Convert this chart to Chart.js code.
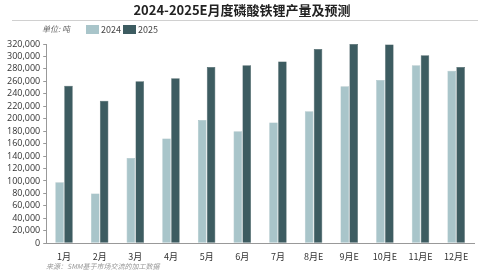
<!DOCTYPE html>
<html>
<head>
<meta charset="utf-8">
<script src="https://cdn.jsdelivr.net/npm/chart.js@4.4.1/dist/chart.umd.min.js"></script>
<style>
  html, body { margin: 0; padding: 0; background: #fff; }
  #wrap { width: 484px; height: 274px; position: relative; }
</style>
</head>
<body>
<div id="wrap"><canvas id="myChart_lfp"></canvas></div>
<script>
// data
var months = ["1月", "2月", "3月", "4月", "5月", "6月", "7月", "8月E", "9月E", "10月E", "11月E", "12月E"];
var data_2024 = [98000, 80000, 137000, 168000, 198000, 180000, 194000, 212000, 252000, 262000, 286000, 277000];
var data_2025 = [253000, 229000, 260000, 265000, 283000, 286000, 292000, 312000, 320000, 319000, 302000, 283000];
var y_ticks = [0, 20000, 40000, 60000, 80000, 100000, 120000, 140000, 160000, 180000, 200000, 220000, 240000, 260000, 280000, 300000, 320000];

var col_2024 = '#a9c5ca';
var col_2025 = '#3d5c61';
var cjk = "'Noto Sans CJK SC', sans-serif";

// title, unit, legend and source note
var decor = {
  id: 'decor',
  afterDraw: function (chart) {
    var c = chart.ctx;
    c.save();
    c.fillStyle = '#222';
    c.font = "bold 13px " + cjk;
    c.textAlign = 'center';
    c.textBaseline = 'middle';
    c.fillText('2024-2025E月度磷酸铁锂产量及预测', 242, 10);

    c.strokeStyle = '#d0d0d0';
    c.lineWidth = 1;
    c.beginPath();
    c.moveTo(12, 20.5);
    c.lineTo(478, 20.5);
    c.stroke();

    c.textAlign = 'left';
    c.font = "italic 8px " + cjk;
    c.fillStyle = '#666';
    c.fillText('单位: 吨', 42, 29);

    c.font = "9px " + cjk;
    c.fillStyle = col_2024;
    c.fillRect(86, 25, 13, 9);
    c.fillStyle = '#444';
    c.fillText('2024', 101, 29.5);
    c.fillStyle = col_2025;
    c.fillRect(123, 25, 13, 9);
    c.fillStyle = '#444';
    c.fillText('2025', 138, 29.5);

    c.font = "italic 7px " + cjk;
    c.fillStyle = '#999';
    c.fillText('来源：SMM基于市场交流的加工数据', 46, 266);
    c.restore();
  }
};

var ctx = document.getElementById("myChart_lfp").getContext('2d');
var myChart_lfp = new Chart(ctx, {
  type: 'bar',
  data: {
    labels: months,
    datasets: [{
      label: "2024",
      data: data_2024,
      backgroundColor: col_2024,
      borderColor: '#9ab6bb',
      borderWidth: 0.5,
      barPercentage: 0.96,
      categoryPercentage: 0.5
    }, {
      label: "2025",
      data: data_2025,
      backgroundColor: col_2025,
      borderColor: '#2f4a4e',
      borderWidth: 0.5,
      barPercentage: 0.96,
      categoryPercentage: 0.5
    }]
  },
  options: {
    responsive: true,
    maintainAspectRatio: false,
    animation: false,
    layout: {
      padding: { top: 44, left: 4, right: 10, bottom: 12 }
    },
    plugins: {
      legend: { display: false },
      title: { display: false },
      tooltip: { enabled: false }
    },
    scales: {
      x: {
        ticks: {
          color: '#333',
          maxRotation: 0,
          padding: 0,
          font: { size: 9, family: cjk }
        },
        grid: { display: false },
        border: { display: true, color: '#999' }
      },
      y: {
        min: 0,
        max: 320000,
        afterBuildTicks: function (axis) {
          axis.ticks = y_ticks.map(function (v) { return { value: v }; });
        },
        ticks: {
          color: '#333',
          padding: 3,
          autoSkip: false,
          font: { size: 9, family: "'Open Sans', sans-serif" },
          callback: function (v) { return v.toLocaleString('en-US'); }
        },
        grid: {
          drawOnChartArea: false,
          drawTicks: true,
          tickLength: 3,
          color: '#999'
        },
        border: { display: true, color: '#999' }
      }
    }
  },
  plugins: [decor]
});
</script>
</body>
</html>
